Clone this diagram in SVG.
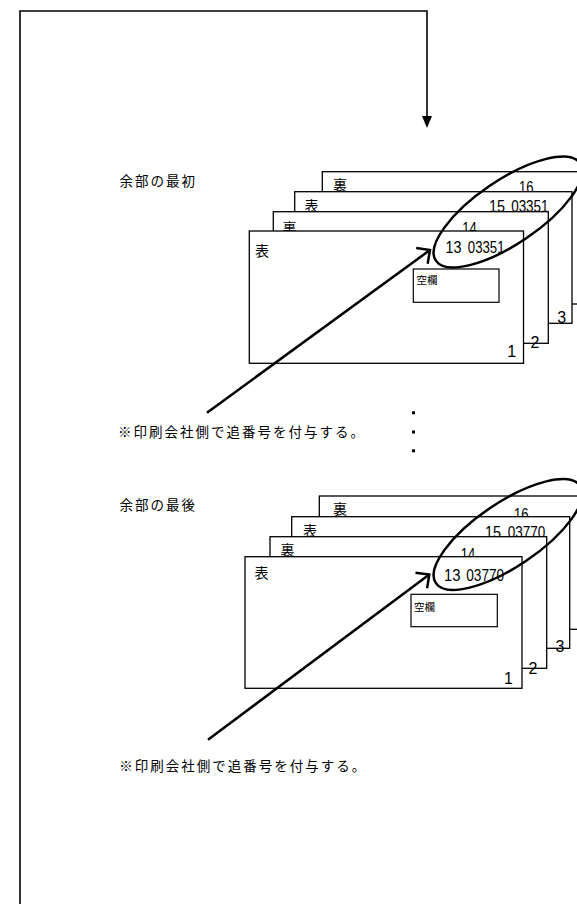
<svg xmlns="http://www.w3.org/2000/svg" width="577" height="904" viewBox="0 0 577 904">
<style>
.card{fill:#fff;stroke:#000;stroke-width:1.3}
.box{fill:none;stroke:#000;stroke-width:1.2}
.jp{font-family:"Noto Sans CJK JP","Noto Sans",sans-serif;fill:#000}
.lbl{font-size:13.5px;letter-spacing:2px}
.side{font-size:14px}
.small{font-size:10.5px}
.num{font-family:"Liberation Sans",Arial,sans-serif;font-size:16px;fill:#000}
.ell{fill:none;stroke:#000;stroke-width:2.5}
.lead{fill:none;stroke:#000;stroke-width:2.5}
.wire{fill:none;stroke:#000;stroke-width:1.6}
</style>
<defs>
<marker id="tri" markerUnits="userSpaceOnUse" viewBox="-12 -6 14 12" refX="0" refY="0" markerWidth="14" markerHeight="12" orient="auto" overflow="visible">
<path d="M-1,-5 L11,0 L-1,5 Z" fill="#000"/>
</marker>
<marker id="open" markerUnits="userSpaceOnUse" viewBox="-15 -15 30 30" refX="0" refY="0" markerWidth="30" markerHeight="30" orient="auto" overflow="visible">
<path d="M-10,-9.7 L0,0 L-10,9.7" fill="none" stroke="#000" stroke-width="2.5"/>
</marker>
</defs>

<!-- set 1 -->
<text id="label-first" class="jp lbl" x="119.5" y="186">余部の最初</text>
<g id="s1-card4">
<rect class="card" x="322.3" y="171.7" width="300" height="132.3"/>
<text class="jp side" x="333" y="190">裏</text>
<text class="num" x="519" y="193" textLength="14.5" lengthAdjust="spacingAndGlyphs">16</text>
</g>
<g id="s1-card3">
<rect class="card" x="294.7" y="191.7" width="277.3" height="131.6"/>
<text class="jp side" x="304.5" y="211.3">表</text>
<text class="num" x="489" y="211.5"><tspan textLength="16" lengthAdjust="spacingAndGlyphs">15</tspan><tspan x="511.2" textLength="37.3" lengthAdjust="spacingAndGlyphs">03351</tspan></text>
<text class="num" x="561.7" y="322.7" text-anchor="middle">3</text>
</g>
<g id="s1-card2">
<rect class="card" x="273.3" y="211.7" width="275" height="131.6"/>
<text class="jp side" x="282.5" y="233">裏</text>
<text class="num" x="462.3" y="233.5" textLength="14.5" lengthAdjust="spacingAndGlyphs">14</text>
<text class="num" x="535" y="348.3" text-anchor="middle">2</text>
</g>
<g id="s1-card1">
<rect class="card" x="249.3" y="231" width="274.2" height="132.3"/>
<text class="jp side" x="255" y="255.5">表</text>
<text class="num" x="445.5" y="253.3"><tspan textLength="16" lengthAdjust="spacingAndGlyphs">13</tspan><tspan x="467.8" textLength="36.8" lengthAdjust="spacingAndGlyphs">03351</tspan></text>
<rect class="box" x="413.3" y="269" width="85.7" height="33.3"/>
<text class="jp small" x="416.5" y="284">空欄</text>
<text class="num" x="511.7" y="357.3" text-anchor="middle">1</text>
</g>
<ellipse id="s1-ellipse" class="ell" cx="508" cy="212" rx="87" ry="32" transform="rotate(-34 508 212)"/>
<text id="note1" class="jp lbl" x="118" y="436.5">※印刷会社側で追番号を付与する。</text>

<g id="ellipsis-dots" fill="#000">
<rect x="412" y="411.3" width="3" height="3"/>
<rect x="412" y="430.5" width="3" height="3"/>
<rect x="412" y="449.3" width="3" height="3"/>
</g>

<!-- set 2 -->
<text id="label-last" class="jp lbl" x="119.5" y="510">余部の最後</text>
<g id="s2-card4">
<rect class="card" x="319.3" y="496" width="300" height="133.3"/>
<text class="jp side" x="333" y="513.5">裏</text>
<text class="num" x="514" y="519.8" textLength="14.5" lengthAdjust="spacingAndGlyphs">16</text>
</g>
<g id="s2-card3">
<rect class="card" x="291.7" y="516.7" width="278" height="131.6"/>
<text class="jp side" x="303" y="536.3">表</text>
<text class="num" x="485" y="538.2"><tspan textLength="16" lengthAdjust="spacingAndGlyphs">15</tspan><tspan x="507.8" textLength="37.6" lengthAdjust="spacingAndGlyphs">03770</tspan></text>
<text class="num" x="560" y="651.7" text-anchor="middle">3</text>
</g>
<g id="s2-card2">
<rect class="card" x="270" y="536.7" width="276.7" height="131.6"/>
<text class="jp side" x="280.5" y="555.3">裏</text>
<text class="num" x="460.8" y="559.8" textLength="14.5" lengthAdjust="spacingAndGlyphs">14</text>
<text class="num" x="533" y="674" text-anchor="middle">2</text>
</g>
<g id="s2-card1">
<rect class="card" x="245" y="556.7" width="277" height="131.6"/>
<text class="jp side" x="254.5" y="578">表</text>
<text class="num" x="444" y="580.8"><tspan textLength="16.5" lengthAdjust="spacingAndGlyphs">13</tspan><tspan x="466.2" textLength="38" lengthAdjust="spacingAndGlyphs">03770</tspan></text>
<rect class="box" x="411" y="594.3" width="86.3" height="32.4"/>
<text class="jp small" x="414" y="610.5">空欄</text>
<text class="num" x="508.4" y="684" text-anchor="middle">1</text>
</g>
<ellipse id="s2-ellipse" class="ell" cx="508" cy="534.5" rx="87" ry="32" transform="rotate(-34 508 534.5)"/>
<text id="note2" class="jp lbl" x="119.3" y="770.5">※印刷会社側で追番号を付与する。</text>

<g id="connectors">
<path class="wire" d="M20,904 L20,11 L427,11 L427,117" marker-end="url(#tri)"/>
<path class="lead" d="M207,412.7 L430,250" marker-end="url(#open)"/>
<path class="lead" d="M208,739.7 L429.3,574.5" marker-end="url(#open)"/>
</g>
</svg>
